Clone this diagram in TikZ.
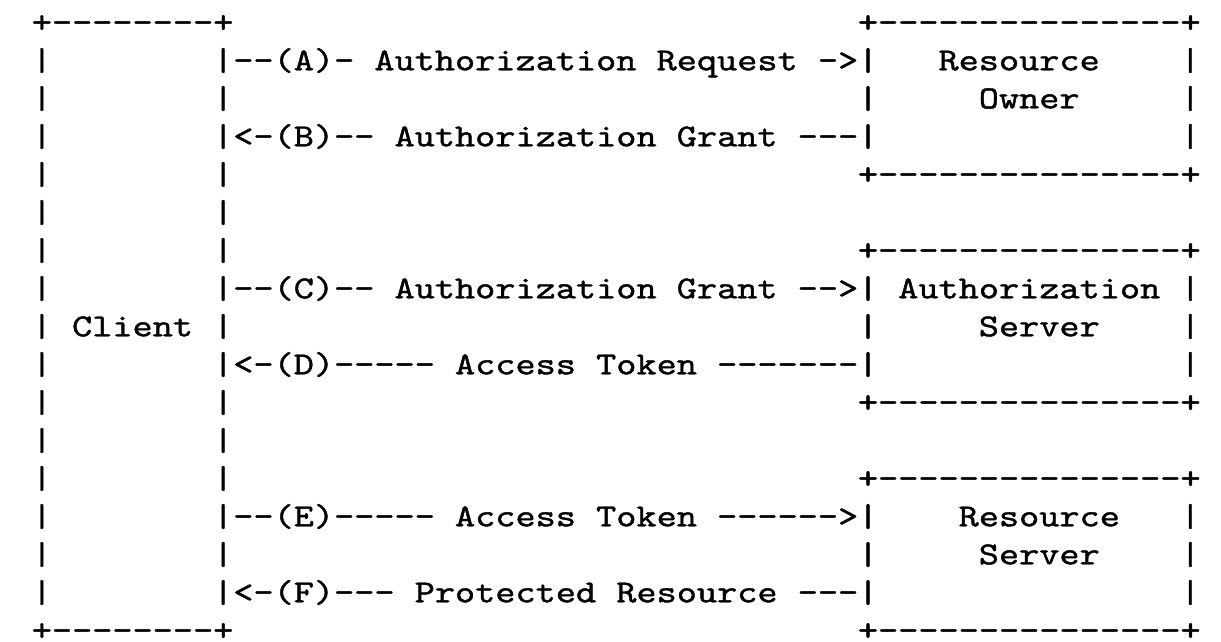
\documentclass[tikz,border=0pt]{standalone}
\usepackage{fontspec}
\newfontfamily\asciifont{lmmono10-regular.otf}[FakeStretch=1.2, FakeBold=1.2, Ligatures=TeXOff]

\begin{document}
\begin{tikzpicture}[
    x=10.075pt, y=-19pt,
    txt/.style={font=\asciifont\fontsize{16}{16}\selectfont, inner sep=0pt, anchor=base west},
    rule/.style={txt},
    label/.style={txt}
]
\useasboundingbox (-1.558,-0.85) rectangle (59.04,16.02);

% Client
\node[rule] (clienttop) at (0,0) {+--------+};
\node[rule] (clientbot) at (0,16) {+--------+};
\foreach \r in {1,...,15} {
    \node[txt] (cl\r) at (0,\r) {|};
    \node[txt] (cr\r) at (9,\r) {|};
}
\node[label] (client) at (2,8) {Client};

% Serveurs
\node[rule] (ownertop) at (41,0) {+---------------+};
\node[rule] (ownerbot) at (41,4) {+---------------+};
\node[rule] (authtop) at (41,6) {+---------------+};
\node[rule] (authbot) at (41,10) {+---------------+};
\node[rule] (restop) at (41,12) {+---------------+};
\node[rule] (resbot) at (41,16) {+---------------+};
\foreach \r in {1,2,3,7,8,9,13,14,15} {
    \node[txt] (bl\r) at (41,\r) {|};
    \node[txt] (br\r) at (57,\r) {|};
}
\node[label] (owner1) at (45,1) {Resource};
\node[label] (owner2) at (47,2) {Owner};
\node[label] (auth1) at (43,7) {Authorization};
\node[label] (auth2) at (47,8) {Server};
\node[label] (res1) at (46,13) {Resource};
\node[label] (res2) at (47,14) {Server};

% Messages
\node[txt] (msgA) at (10,1) {--(A)- Authorization Request ->};
\node[txt] (msgB) at (10,3) {<-(B)-- Authorization Grant ---};
\node[txt] (msgC) at (10,7) {--(C)-- Authorization Grant -->};
\node[txt] (msgD) at (10,9) {<-(D)----- Access Token -------};
\node[txt] (msgE) at (10,13) {--(E)----- Access Token ------>};
\node[txt] (msgF) at (10,15) {<-(F)--- Protected Resource ---};

\end{tikzpicture}
\end{document}
